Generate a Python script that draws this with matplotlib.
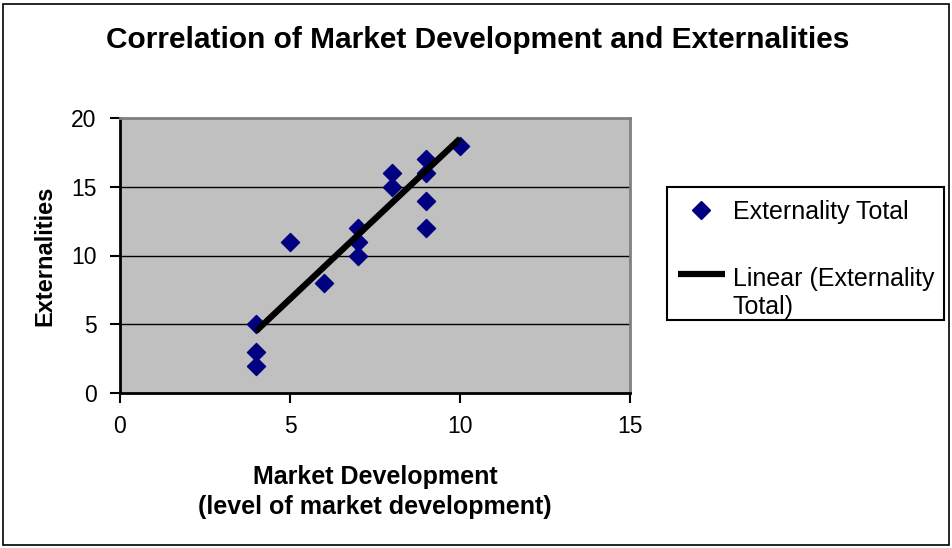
import matplotlib.pyplot as plt
from matplotlib.lines import Line2D
from matplotlib.patches import Rectangle

plt.rcParams['font.family'] = ['Liberation Sans', 'DejaVu Sans']

# scatter data
market_dev = [4, 4, 4, 5, 6, 7, 7, 7, 8, 8, 9, 9, 9, 9, 10]
externality = [2, 3, 5, 11, 8, 10, 11, 12, 15, 16, 12, 14, 16, 17, 18]

# linear trendline endpoints as drawn
trend_x = [4, 10]
trend_y = [4.5, 18.5]

fig = plt.figure(figsize=(9.53, 5.48), dpi=100)
W, H = 953, 548

def fx(px):
    return px / W

def fy(py):
    return 1 - py / H

# outer border of the chart
fig.patches.append(Rectangle((fx(3), fy(545)), fx(946), 541 / H, transform=fig.transFigure,
                             fill=False, edgecolor='black', linewidth=1.2))

ax = fig.add_axes([fx(120), fy(393), fx(510), 275 / H])
ax.set_facecolor('#C0C0C0')

for y in [5, 10, 15]:
    ax.axhline(y, color='black', linewidth=1, zorder=1)

ax.scatter(market_dev, externality, marker='D', s=85, color='#000080', zorder=3)
ax.plot(trend_x, trend_y, color='black', linewidth=4.5, solid_capstyle='butt', zorder=4)

ax.set_xlim(0, 15)
ax.set_ylim(0, 20)
ax.set_xticks([0, 5, 10, 15])
ax.set_yticks([0, 5, 10, 15, 20])
ax.tick_params(axis='both', direction='out', length=7, width=1.5, labelsize=16.5, color='black')
ax.tick_params(axis='x', pad=9)
ax.tick_params(axis='y', pad=10)

for side in ['left', 'bottom']:
    ax.spines[side].set_color('black')
    ax.spines[side].set_linewidth(2)
for side in ['top', 'right']:
    ax.spines[side].set_color('#808080')
    ax.spines[side].set_linewidth(2)

fig.text(fx(478), fy(40), 'Correlation of Market Development and Externalities',
         ha='center', va='center', fontsize=21.5, fontweight='bold')
fig.text(fx(375), fy(477), 'Market Development', ha='center', va='center',
         fontsize=18, fontweight='bold')
fig.text(fx(375), fy(507), '(level of market development)', ha='center', va='center',
         fontsize=18, fontweight='bold')
fig.text(fx(45), fy(256), 'Externalities', ha='center', va='center', rotation=90,
         fontsize=17, fontweight='bold')

# legend box
fig.patches.append(Rectangle((fx(667), fy(320)), fx(277), 133 / H, transform=fig.transFigure,
                             fill=False, edgecolor='black', linewidth=1.5))
fig.add_artist(Line2D([fx(701)], [fy(210)], marker='D', markersize=9, color='#000080',
                      linestyle='none', transform=fig.transFigure))
fig.add_artist(Line2D([fx(678), fx(725)], [fy(274), fy(274)], color='black', linewidth=4.5,
                      solid_capstyle='butt', transform=fig.transFigure))
fig.text(fx(733), fy(212), 'Externality Total', ha='left', va='center', fontsize=18)
fig.text(fx(733), fy(293), 'Linear (Externality\nTotal)', ha='left', va='center',
         fontsize=18, linespacing=1.2)

fig.savefig('out.png', dpi=100)
